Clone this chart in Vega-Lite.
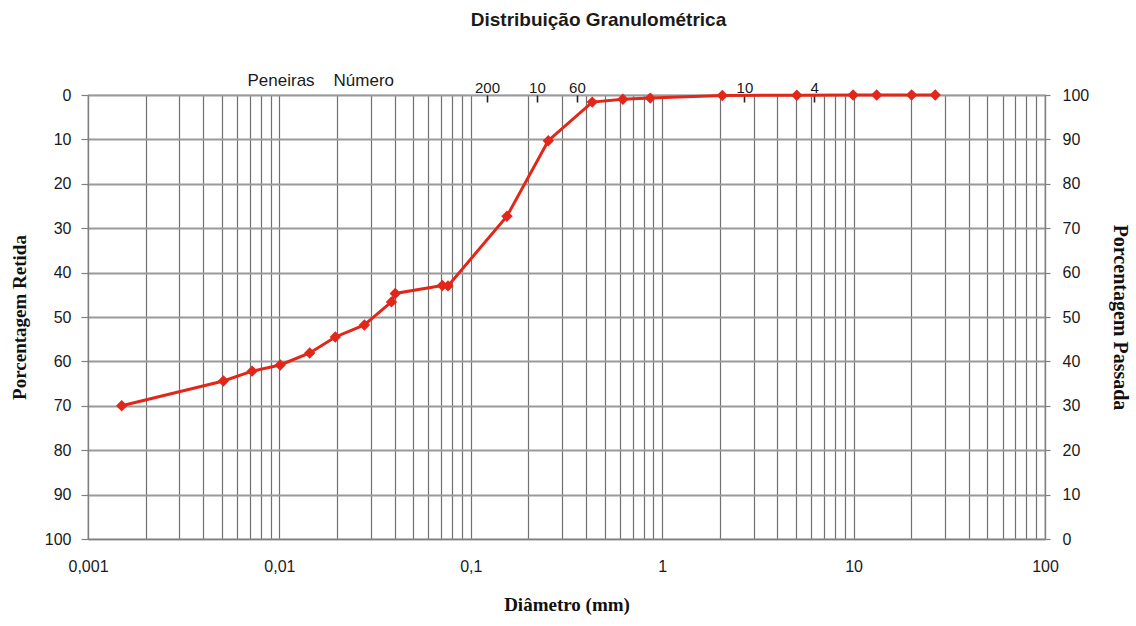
{
  "$schema": "https://vega.github.io/schema/vega-lite/v6.json",
  "width": 957,
  "height": 444,
  "autosize": "none",
  "padding": {"left": 88, "top": 95, "right": 91, "bottom": 87},
  "background": "white",
  "title": {
    "text": "Distribuição Granulométrica",
    "font": "Liberation Sans",
    "fontSize": 19,
    "fontWeight": "bold",
    "color": "#1a1a1a",
    "anchor": "middle",
    "dx": 32,
    "offset": 42
  },
  "config": {
    "view": {"stroke": "#808080", "strokeWidth": 1.2}
  },
  "datasets": {
    "pts": [
      {"d": 0.0015, "r": 70.0},
      {"d": 0.0051, "r": 64.4},
      {"d": 0.0072, "r": 62.2},
      {"d": 0.0101, "r": 60.8},
      {"d": 0.0144, "r": 58.1},
      {"d": 0.0196, "r": 54.5},
      {"d": 0.0278, "r": 51.8},
      {"d": 0.0385, "r": 46.6},
      {"d": 0.0403, "r": 44.7},
      {"d": 0.071, "r": 42.9},
      {"d": 0.076, "r": 43.0},
      {"d": 0.1545, "r": 27.3},
      {"d": 0.254, "r": 10.3},
      {"d": 0.431, "r": 1.6},
      {"d": 0.623, "r": 0.95},
      {"d": 0.866, "r": 0.7},
      {"d": 2.06, "r": 0.1},
      {"d": 5.05, "r": 0.05},
      {"d": 9.94, "r": 0.0},
      {"d": 13.2, "r": 0.0},
      {"d": 20.1, "r": 0.0},
      {"d": 26.7, "r": 0.0}
    ],
    "lbl": [
      {"d": 0.0102, "r": 0, "t": "Peneiras"},
      {"d": 0.0276, "r": 0, "t": "Número"}
    ]
  },
  "layer": [
    {
      "data": {"name": "pts"},
      "mark": {"type": "line", "color": "#e2271a", "strokeWidth": 3},
      "encoding": {
        "x": {
          "field": "d",
          "type": "quantitative",
          "scale": {"type": "log", "domain": [0.001, 100], "nice": false},
          "axis": {
            "orient": "bottom",
            "values": [0.001, 0.002, 0.003, 0.004, 0.005, 0.006, 0.007, 0.008, 0.009,
                       0.01, 0.02, 0.03, 0.04, 0.05, 0.06, 0.07, 0.08, 0.09,
                       0.1, 0.2, 0.3, 0.4, 0.5, 0.6, 0.7, 0.8, 0.9,
                       1, 2, 3, 4, 5, 6, 7, 8, 9,
                       10, 20, 30, 40, 50, 60, 70, 80, 90, 100],
            "labelExpr": "datum.value == 0.001 ? '0,001' : datum.value == 0.01 ? '0,01' : datum.value == 0.1 ? '0,1' : datum.value == 1 ? '1' : datum.value == 10 ? '10' : datum.value == 100 ? '100' : ''",
            "grid": true,
            "gridColor": "#707070",
            "gridWidth": 1.2,
            "ticks": false,
            "domain": true,
            "domainColor": "#808080",
            "domainWidth": 1.2,
            "labelFont": "Liberation Sans",
            "labelFontSize": 16,
            "labelColor": "#1a1a1a",
            "labelPadding": 19,
            "labelFlush": false,
            "labelOverlap": false,
            "title": "Diâmetro (mm)",
            "titleFont": "Liberation Serif",
            "titleFontSize": 19,
            "titleFontWeight": "bold",
            "titleColor": "#111111",
            "titlePadding": 21
          }
        },
        "y": {
          "field": "r",
          "type": "quantitative",
          "scale": {"domain": [0, 100], "reverse": true, "nice": false},
          "axis": {
            "orient": "left",
            "values": [0, 10, 20, 30, 40, 50, 60, 70, 80, 90, 100],
            "grid": true,
            "gridColor": "#9a9a9a",
            "gridWidth": 1.8,
            "tickSize": 7,
            "tickColor": "#808080",
            "tickWidth": 1.2,
            "domainColor": "#808080",
            "domainWidth": 1.2,
            "labelFont": "Liberation Sans",
            "labelFontSize": 16,
            "labelColor": "#1a1a1a",
            "labelPadding": 10,
            "title": "Porcentagem Retida",
            "titleFont": "Liberation Serif",
            "titleFontSize": 19,
            "titleFontWeight": "bold",
            "titleColor": "#111111",
            "titlePadding": 15
          }
        }
      }
    },
    {
      "data": {"name": "pts"},
      "mark": {"type": "point", "shape": "diamond", "filled": true, "color": "#e2271a", "size": 130, "opacity": 1},
      "encoding": {
        "x": {
          "field": "d",
          "type": "quantitative",
          "axis": {
            "orient": "top",
            "values": [0.1215, 0.2216, 0.3586, 2.69, 6.22],
            "labelExpr": "datum.value < 0.15 ? '200' : datum.value < 0.3 ? '10' : datum.value < 1 ? '60' : datum.value < 4 ? '10' : '4'",
            "grid": false,
            "domain": false,
            "tickSize": -7,
            "tickColor": "#222222",
            "tickWidth": 1.6,
            "labelFont": "Liberation Sans",
            "labelFontSize": 15,
            "labelColor": "#1a1a1a",
            "labelPadding": 7,
            "labelFlush": false,
            "labelOverlap": false,
            "title": null
          }
        },
        "y": {
          "field": "r",
          "type": "quantitative",
          "axis": {
            "orient": "right",
            "values": [0, 10, 20, 30, 40, 50, 60, 70, 80, 90, 100],
            "labelExpr": "100 - datum.value",
            "grid": false,
            "tickSize": 5,
            "tickColor": "#808080",
            "tickWidth": 1.2,
            "domainColor": "#808080",
            "domainWidth": 1.2,
            "labelFont": "Liberation Sans",
            "labelFontSize": 16,
            "labelColor": "#1a1a1a",
            "labelPadding": 12,
            "title": "Porcentagem Passada",
            "titleFont": "Liberation Serif",
            "titleFontSize": 20,
            "titleFontWeight": "bold",
            "titleColor": "#111111",
            "titlePadding": 21
          }
        }
      }
    },
    {
      "data": {"name": "lbl"},
      "mark": {"type": "text", "dy": -14, "font": "Liberation Sans", "fontSize": 17, "color": "#1a1a1a", "baseline": "middle"},
      "encoding": {
        "x": {"field": "d", "type": "quantitative", "axis": null},
        "y": {"field": "r", "type": "quantitative", "axis": null},
        "text": {"field": "t"}
      }
    }
  ],
  "resolve": {"axis": {"x": "independent", "y": "independent"}}
}
